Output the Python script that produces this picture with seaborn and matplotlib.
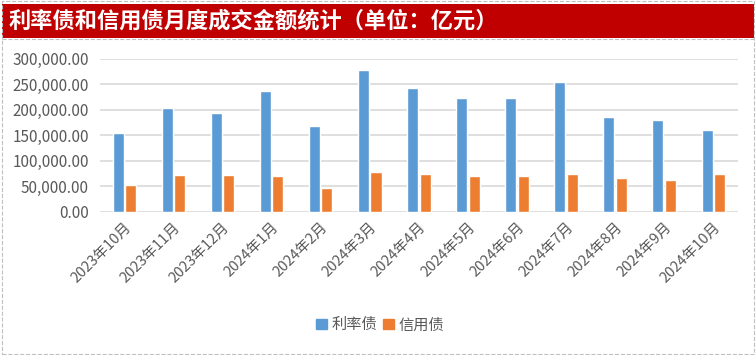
import matplotlib
matplotlib.use("Agg")
import matplotlib.pyplot as plt
import matplotlib.transforms as mtransforms
import seaborn as sns
import pandas as pd
from matplotlib.patches import Rectangle
from matplotlib.lines import Line2D

months = ["2023年10月", "2023年11月", "2023年12月", "2024年1月", "2024年2月",
          "2024年3月", "2024年4月", "2024年5月", "2024年6月", "2024年7月",
          "2024年8月", "2024年9月", "2024年10月"]
rate_bonds = [155000, 204000, 194000, 237500, 168500, 277000, 243000,
              223500, 223500, 255000, 186500, 180500, 161000]
credit_bonds = [53000, 72500, 72500, 70500, 47000, 78500, 74500,
                70500, 70500, 74500, 66500, 62500, 74500]
series_names = ["利率债", "信用债"]
colors = ["#5B9BD5", "#ED7D31"]

sns.set_style("white")
plt.rcParams['font.family'] = ['Noto Sans CJK SC', 'DejaVu Sans']

df = pd.DataFrame({"month": months, series_names[0]: rate_bonds, series_names[1]: credit_bonds})
df = df.melt(id_vars="month", var_name="type", value_name="amount")

fig = plt.figure(figsize=(7.56, 3.55), dpi=100)
ax = fig.add_axes([0.132, 0.403, 0.844, 0.432])

sns.barplot(data=df, x="month", y="amount", hue="type", palette=colors,
            width=0.51, gap=0.12, ax=ax, legend=False, saturation=1)

ax.set_ylim(0, 300000)
ax.set_yticks(range(0, 300001, 50000))
ax.set_yticklabels([f"{v:,.2f}" for v in range(0, 300001, 50000)],
                   fontsize=11, color="#595959")
ax.set_xticks(range(len(months)))
ax.set_xticklabels(months, rotation=45, ha="right", rotation_mode="anchor",
                   fontsize=10.5, color="#595959")
shift = mtransforms.ScaledTranslation(8 / 100, -2 / 100, fig.dpi_scale_trans)
for lbl in ax.get_xticklabels():
    lbl.set_transform(lbl.get_transform() + shift)
ax.tick_params(axis="x", pad=6, length=0)
ax.tick_params(axis="y", length=0, pad=8)
ax.set_xlim(-0.5, len(months) - 0.5)
ax.set_xlabel("")
ax.set_ylabel("")
ax.yaxis.grid(True, color="#D9D9D9", linewidth=1.2)
ax.set_axisbelow(True)
for s in ax.spines.values():
    s.set_visible(False)

handles = [Rectangle((0, 0), 1, 1, color=c) for c in colors]
fig.legend(handles, series_names, loc="center", bbox_to_anchor=(0.503, 0.085),
           ncol=2, frameon=False, fontsize=11, handlelength=0.7, handleheight=0.7,
           handletextpad=0.3, columnspacing=0.4, labelcolor="#595959")

# title banner
fig.patches.append(Rectangle((0.003, 0.893), 0.994, 0.097, transform=fig.transFigure,
                             facecolor="#C00000", edgecolor="none"))
fig.text(0.011, 0.941, "利率债和信用债月度成交金额统计（单位：亿元）", color="white",
         fontsize=16, fontweight="bold", va="center", ha="left")

# dashed outer frame
fig.patches.append(Rectangle((0.002, 0.003), 0.996, 0.994, transform=fig.transFigure,
                             facecolor="none", edgecolor="#BFBFBF", linestyle="--", linewidth=0.8))
fig.lines.append(Line2D([0.002, 0.998], [0.889, 0.889], transform=fig.transFigure,
                        color="#BFBFBF", linestyle="--", linewidth=0.8))

fig.savefig("out.png", dpi=100)
